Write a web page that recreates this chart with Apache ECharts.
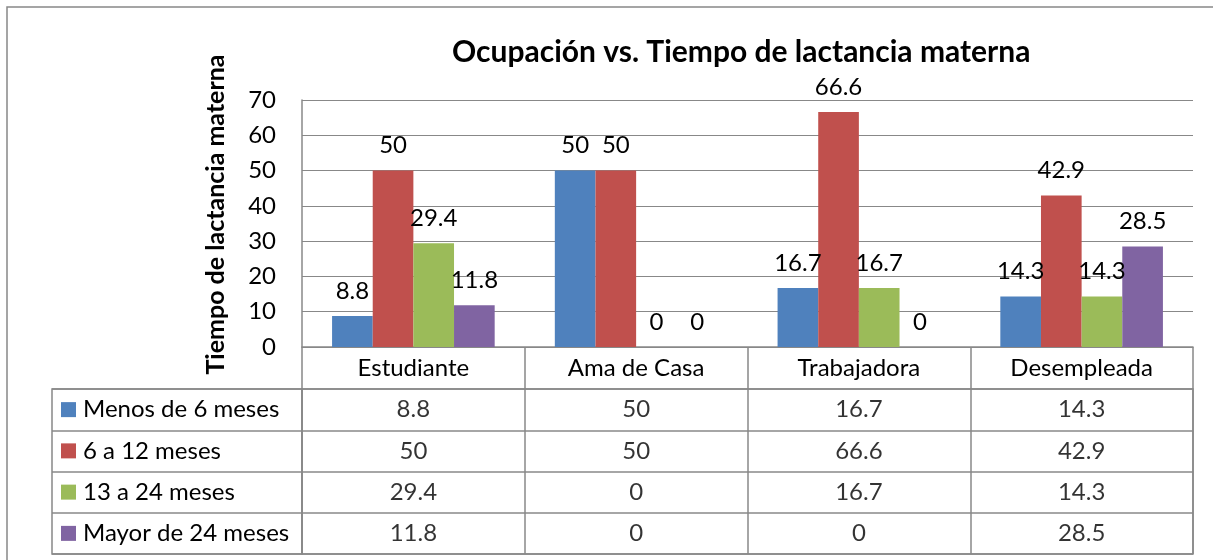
<!DOCTYPE html>
<html>
<head>
<meta charset="utf-8">
<script src="https://cdn.jsdelivr.net/npm/echarts@6/dist/echarts.min.js"></script>
<style>
  html, body { margin: 0; padding: 0; background: #fff; }
  #chart { width: 1213px; height: 560px; }
</style>
</head>
<body>
<div id="chart"></div>
<script>
// datos
var categorias = ['Estudiante', 'Ama de Casa', 'Trabajadora', 'Desempleada'];
var series_nombres = ['Menos de 6 meses', '6 a 12 meses', '13 a 24 meses', 'Mayor de 24 meses'];
var menos6 = [8.8, 50, 16.7, 14.3];
var de6a12 = [50, 50, 66.6, 42.9];
var de13a24 = [29.4, 0, 16.7, 14.3];
var mayor24 = [11.8, 0, 0, 28.5];
var ejeY = [0, 10, 20, 30, 40, 50, 60, 70];

var valores = [menos6, de6a12, de13a24, mayor24];
var colores = ['#4F81BD', '#C0504D', '#9BBB59', '#8064A2'];
var gris = '#888888';
var fuente = 'Lato';
var tam = 24;

var myChart = echarts.init(document.getElementById('chart'));

var series = [];
// barras
valores.forEach(function (v, i) {
  series.push({
    name: series_nombres[i],
    type: 'bar',
    xAxisIndex: 0,
    yAxisIndex: 0,
    data: v,
    barGap: '0%',
    barCategoryGap: '27%',
    itemStyle: { color: colores[i] },
    label: {
      show: true,
      position: 'top',
      distance: 13,
      color: '#000',
      fontSize: tam,
      fontFamily: fuente
    }
  });
});
// celdas de la tabla de datos
valores.forEach(function (v, i) {
  series.push({
    type: 'scatter',
    xAxisIndex: 1,
    yAxisIndex: 1,
    symbolSize: 0,
    silent: true,
    data: v.map(function (x, j) { return [categorias[j], series_nombres[i], x]; }),
    label: {
      show: true,
      position: 'inside',
      formatter: function (p) { return p.value[2]; },
      color: '#000',
      fontSize: tam,
      fontFamily: fuente
    }
  });
});

var rich = { n: { fontSize: tam, fontFamily: fuente, color: '#000', padding: [0, 0, 0, 7] } };
colores.forEach(function (c, i) {
  rich['s' + i] = { width: 15, height: 15, backgroundColor: c };
});

var option = {
  animation: false,
  textStyle: { fontFamily: fuente },
  title: {
    text: 'Ocupación vs. Tiempo de lactancia materna',
    left: 447,
    top: 32,
    textStyle: { fontSize: 30, fontWeight: 'bold', color: '#000', fontFamily: fuente }
  },
  graphic: [{
    type: 'rect',
    z: -10,
    shape: { x: 7, y: 7, width: 1230, height: 600 },
    style: { fill: 'none', stroke: gris, lineWidth: 1.5 }
  }],
  grid: [
    { left: 302, right: 20, top: 100, height: 247 },
    { left: 302, right: 20, top: 389, height: 165, show: true, borderColor: gris, borderWidth: 1.5 },
    { left: 52, width: 250, top: 389, height: 165, show: true, borderColor: gris, borderWidth: 1.5 }
  ],
  xAxis: [
    {
      gridIndex: 0,
      type: 'category',
      data: categorias,
      axisLine: { lineStyle: { color: gris, width: 1.5 } },
      axisTick: { show: true, interval: 0, length: 42, lineStyle: { color: gris, width: 1.5 } },
      axisLabel: { color: '#000', fontSize: tam, fontFamily: fuente, margin: 9, interval: 0 }
    },
    {
      gridIndex: 1,
      type: 'category',
      data: categorias,
      axisLine: { show: false },
      axisTick: { show: false },
      axisLabel: { show: false },
      splitLine: { show: true, interval: 0, lineStyle: { color: gris, width: 1.5 } }
    },
    { gridIndex: 2, type: 'value', show: false }
  ],
  yAxis: [
    {
      gridIndex: 0,
      type: 'value',
      min: ejeY[0],
      max: ejeY[ejeY.length - 1],
      interval: 10,
      name: 'Tiempo de lactancia materna',
      nameLocation: 'middle',
      nameRotate: 90,
      nameGap: 74,
      nameTextStyle: { fontSize: 25, fontWeight: 'bold', color: '#000', fontFamily: fuente, padding: [0, 0, 0, 18] },
      axisLine: { show: true, lineStyle: { color: gris, width: 1.5 } },
      axisTick: { show: false },
      axisLabel: { color: '#000', fontSize: tam, fontFamily: fuente, margin: 26 },
      splitLine: { show: true, lineStyle: { color: gris, width: 1.2 } }
    },
    {
      gridIndex: 1,
      type: 'category',
      inverse: true,
      data: series_nombres,
      axisLine: { show: false },
      axisTick: { show: false },
      axisLabel: { show: false },
      splitLine: { show: true, interval: 0, lineStyle: { color: gris, width: 1.5 } }
    },
    {
      gridIndex: 2,
      type: 'category',
      inverse: true,
      data: series_nombres,
      axisLine: { show: false },
      axisTick: { show: false },
      splitLine: { show: true, interval: 0, lineStyle: { color: gris, width: 1.5 } },
      axisLabel: {
        inside: true,
        margin: 9,
        align: 'left',
        interval: 0,
        formatter: function (v, i) { return '{s' + i + '|}{n|' + v + '}'; },
        rich: rich
      }
    }
  ],
  series: series
};
myChart.setOption(option);
</script>
</body>
</html>
